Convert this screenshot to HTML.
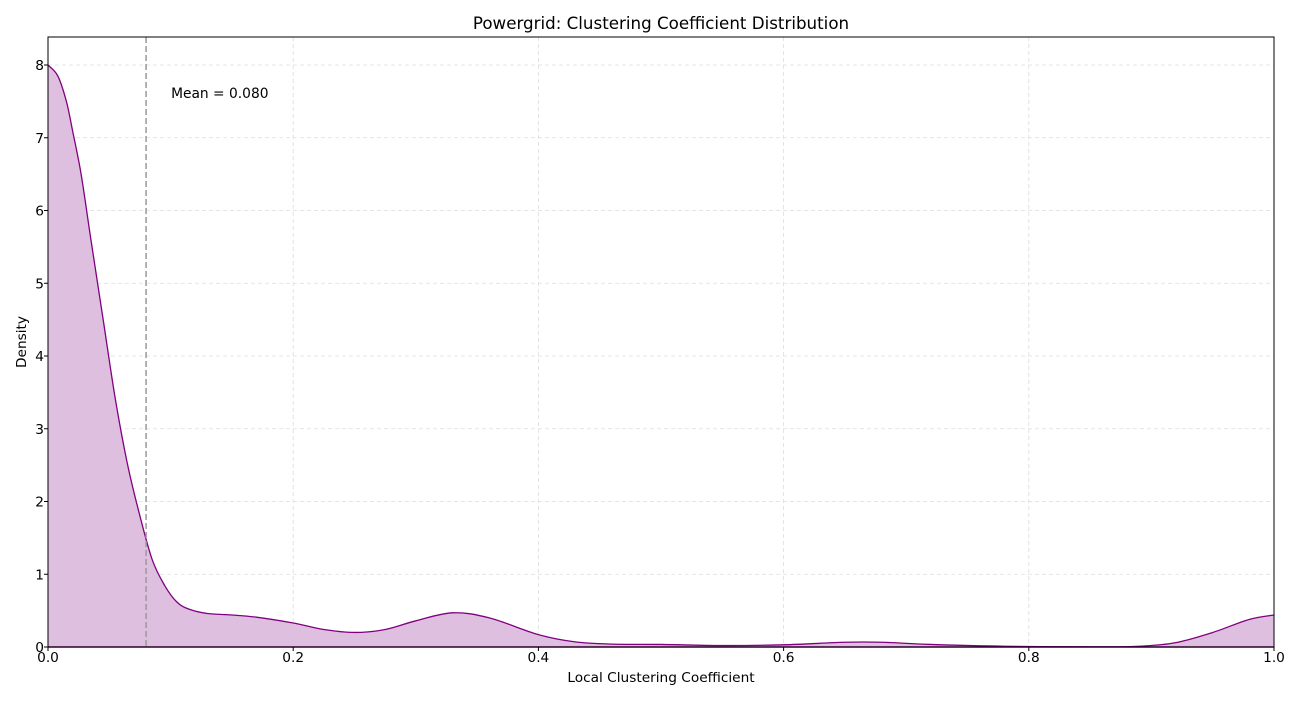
<!DOCTYPE html>
<html><head><meta charset="utf-8"><style>
body{margin:0;background:#fff;font-family:"Liberation Sans","DejaVu Sans",sans-serif;}
svg text{font-family:"DejaVu Sans","Liberation Sans",sans-serif;}
</style></head><body>
<svg width="1300" height="700" viewBox="0 0 1300 700" id="chart">
<rect width="1300" height="700" fill="#fff"/>
<g id="grid"></g>
<g id="series"></g>
<g id="axes"></g>
<text x="661" y="29" font-size="16.7" text-anchor="middle">Powergrid: Clustering Coefficient Distribution</text>
<text x="661" y="682" font-size="13.7" text-anchor="middle">Local Clustering Coefficient</text>
<text x="26" y="342" font-size="13.7" text-anchor="middle" transform="rotate(-90 26 342)">Density</text>
</svg>
<script>
const xs=[0,0.008,0.015,0.02,0.027,0.035,0.045,0.055,0.065,0.075,0.085,0.095,0.105,0.115,0.13,0.15,0.17,0.2,0.225,0.25,0.275,0.3,0.33,0.36,0.4,0.43,0.46,0.5,0.55,0.6,0.65,0.68,0.72,0.78,0.85,0.89,0.92,0.95,0.98,1.0];
const density=[8.0,7.85,7.5,7.1,6.5,5.6,4.5,3.4,2.5,1.8,1.2,0.85,0.62,0.52,0.46,0.44,0.41,0.33,0.24,0.2,0.24,0.36,0.47,0.4,0.17,0.07,0.04,0.035,0.02,0.03,0.065,0.065,0.035,0.01,0.003,0.01,0.06,0.2,0.38,0.44];
const xTicks=[0,0.2,0.4,0.6,0.8,1.0];
const xTickLabels=["0.0","0.2","0.4","0.6","0.8","1.0"];
const yTicks=[0,1,2,3,4,5,6,7,8];
const meanValue=0.080;
const L=48,R=1274,T=37,B=647;
const X=v=>L+v*(R-L);
const Y=v=>B-v*(647-65)/8;
const NS="http://www.w3.org/2000/svg";
function mk(tag,attrs,parent){const e=document.createElementNS(NS,tag);for(const k in attrs)e.setAttribute(k,attrs[k]);parent.appendChild(e);return e;}
const grid=document.getElementById('grid'),ser=document.getElementById('series'),ax=document.getElementById('axes');
xTicks.forEach((t,i)=>{
 const g=mk('line',{x1:X(t),x2:X(t),y1:T,y2:B,stroke:'#ddd','stroke-dasharray':'4,3','stroke-width':0.8},grid);
 
 
 const tk=mk('line',{x1:X(t),x2:X(t),y1:B,y2:B+4,stroke:'#000'},ax);
 
 
 const tx=mk('text',{x:X(t),y:B+15,'font-size':13.7,'text-anchor':'middle'},ax);
 tx.textContent=xTickLabels[i];
 
 
});
yTicks.forEach(t=>{
 const g=mk('line',{x1:L,x2:R,y1:Y(t),y2:Y(t),stroke:'#ddd','stroke-dasharray':'4,3','stroke-width':0.8},grid);
 
 
 const tk=mk('line',{x1:L-4,x2:L,y1:Y(t),y2:Y(t),stroke:'#000'},ax);
 
 
 const tx=mk('text',{x:L-4,y:Y(t)+5,'font-size':13.7,'text-anchor':'end'},ax);
 tx.textContent=t;
 
 
});
const pts=xs.map((x,i)=>[X(x),Y(density[i])]);
let d='M'+pts[0][0]+','+pts[0][1];
for(let i=0;i<pts.length-1;i++){
 const p0=pts[Math.max(0,i-1)],p1=pts[i],p2=pts[i+1],p3=pts[Math.min(pts.length-1,i+2)];
 const c1=[p1[0]+(p2[0]-p0[0])/6,p1[1]+(p2[1]-p0[1])/6];
 const c2=[p2[0]-(p3[0]-p1[0])/6,p2[1]-(p3[1]-p1[1])/6];
 d+=` C${c1[0]},${c1[1]} ${c2[0]},${c2[1]} ${p2[0]},${p2[1]}`;
}
const area=mk('path',{d:d+` L${X(xs[xs.length-1])},${Y(0)} L${X(xs[0])},${Y(0)} Z`,fill:'#dfbfdf'},ser);


const line=mk('path',{d:d,fill:'none',stroke:'#800080','stroke-width':1.3},ser);


const base=mk('line',{x1:L,x2:R,y1:Y(0),y2:Y(0),stroke:'#800080','stroke-width':1.5},ser);


const ml=mk('line',{x1:X(meanValue),x2:X(meanValue),y1:T,y2:B,stroke:'#999','stroke-width':1.5,'stroke-dasharray':'6,3'},ser);


const mt=mk('text',{x:X(meanValue)+25,y:98,'font-size':13.8},ser);
mt.textContent='Mean = '+meanValue.toFixed(3);


const fr=mk('rect',{x:L,y:T,width:R-L,height:B-T,fill:'none',stroke:'#000','stroke-width':1},ax);


</script>
</body></html>
